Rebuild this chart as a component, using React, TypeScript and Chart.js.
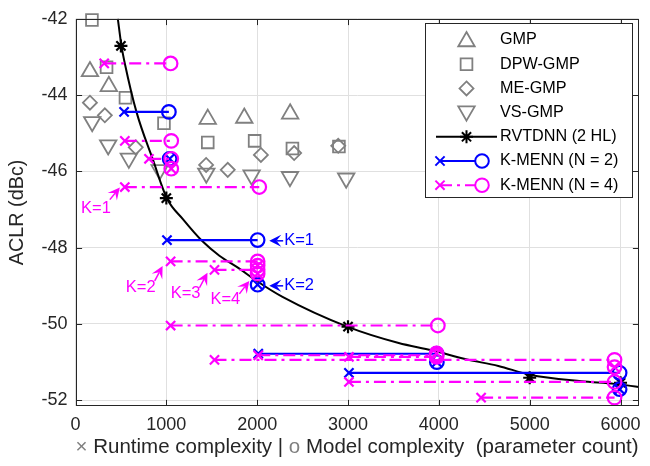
import React, { useEffect, useRef } from "react";
import { Chart, registerables } from "chart.js";
Chart.register(...registerables);

// ---------- data ----------
const xTicks = [0, 1000, 2000, 3000, 4000, 5000, 6000];
const yTicks = [-52, -50, -48, -46, -44, -42];
const xMin = 0, xMax = 6200, yMin = -52.15, yMax = -42;

const gmpX = [159, 367, 1456, 1858, 2363];
const gmpY = [-43.38, -43.77, -44.63, -44.6, -44.49];
const dpwX = [181, 342, 550, 974, 1456, 1972, 2388, 2900];
const dpwY = [-42.03, -43.27, -44.07, -44.74, -45.24, -45.2, -45.4, -45.35];
const meX = [159, 323, 663, 1438, 1676, 2041, 2407, 2892];
const meY = [-44.2, -44.53, -45.37, -45.83, -45.96, -45.57, -45.52, -45.33];
const vsX = [184, 360, 587, 927, 1440, 1939, 2361, 2980];
const vsY = [-44.7, -45.31, -45.66, -45.96, -46.05, -46.1, -46.14, -46.18];

const rvtdnnX = [500, 1000, 3000, 5000, 6000];
const rvtdnnY = [-42.71, -46.7, -50.07, -51.41, -51.54];
const fitX = [466, 506, 543, 671, 853, 1007, 1182, 1401, 1584, 1804, 1987, 2279, 2991, 3558, 3923, 4289, 4655, 5002, 5568, 5934, 6200];
const fitY = [-42.0, -42.71, -43.17, -44.44, -45.7, -46.71, -47.25, -47.84, -48.21, -48.55, -48.86, -49.29, -50.07, -50.5, -50.69, -50.92, -51.1, -51.33, -51.5, -51.57, -51.65];

const n2RuntimeX = [535, 1036, 1007, 2005, 2012, 3978, 3010, 5990];
const n2ModelX = [1028, 1036, 2005, 2005, 3975, 3978, 5990, 5990];
const n2Aclr = [-44.44, -45.67, -47.8, -48.97, -50.78, -51.0, -51.28, -51.71];

const n4RuntimeX = [316, 543, 809, 1054, 543, 1047, 1530, 2005, 2005, 1047, 1530, 2012, 3010, 3975, 3010, 4465, 5934];
const n4ModelX = [1047, 1054, 1054, 1054, 2023, 2005, 2005, 2005, 2005, 3989, 5934, 3975, 3975, 3975, 5934, 5934, 5934];
const n4Aclr = [-43.17, -45.2, -45.67, -45.93, -46.41, -48.36, -48.58, -48.47, -48.68, -50.04, -50.94, -50.82, -50.86, -50.77, -51.52, -51.93, -51.13];

const seriesNames = ["GMP", "DPW-GMP", "ME-GMP", "VS-GMP", "RVTDNN (2 HL)", "K-MENN (N = 2)", "K-MENN (N = 4)"];

// annotations in data coordinates
const notes = [
  { text: "K=1", color: "#ff00ff", tip: [488, -46.42], tail: [378, -46.74], at: [225, -46.98], align: "center" },
  { text: "K=2", color: "#ff00ff", tip: [959, -48.48], tail: [872, -48.87], at: [718, -49.05], align: "center" },
  { text: "K=3", color: "#ff00ff", tip: [1453, -48.66], tail: [1365, -49.05], at: [1212, -49.21], align: "center" },
  { text: "K=4", color: "#ff00ff", tip: [1913, -48.87], tail: [1804, -49.21], at: [1650, -49.37], align: "center" },
  { text: "K=1", color: "#0000ff", tip: [2133, -47.82], tail: [2286, -47.82], at: [2297, -47.82], align: "left" },
  { text: "K=2", color: "#0000ff", tip: [2133, -49.0], tail: [2286, -49.0], at: [2297, -49.0], align: "left" },
];

// ---------- style ----------
const FONT = "'Liberation Sans', Arial, Helvetica, sans-serif";
const GRAY = "#808080";
const AX = "#262626";
const BLUE = "#0000ff";
const MAG = "#ff00ff";
const DASHDOT = [12, 5, 3, 5];

function drawMarker(ctx: CanvasRenderingContext2D, style: string, x: number, y: number, r: number) {
  ctx.beginPath();
  if (style === "triangle" || style === "triangleDown") {
    const s = style === "triangle" ? 1 : -1;
    for (let i = 0; i < 3; i++) {
      const a = (i * 2 * Math.PI) / 3;
      const px = x + Math.sin(a) * r;
      const py = y - s * Math.cos(a) * r;
      if (i === 0) ctx.moveTo(px, py); else ctx.lineTo(px, py);
    }
    ctx.closePath();
    ctx.stroke();
  } else if (style === "rect") {
    const h = r * Math.SQRT1_2;
    ctx.rect(x - h, y - h, 2 * h, 2 * h);
    ctx.stroke();
  } else if (style === "rectRot") {
    ctx.moveTo(x, y - r); ctx.lineTo(x + r, y); ctx.lineTo(x, y + r); ctx.lineTo(x - r, y); ctx.closePath();
    ctx.stroke();
  } else if (style === "circle") {
    ctx.arc(x, y, r, 0, Math.PI * 2);
    ctx.stroke();
  } else if (style === "crossRot" || style === "star") {
    const h = r * Math.SQRT1_2;
    ctx.moveTo(x - h, y - h); ctx.lineTo(x + h, y + h);
    ctx.moveTo(x - h, y + h); ctx.lineTo(x + h, y - h);
    if (style === "star") {
      ctx.moveTo(x - r, y); ctx.lineTo(x + r, y);
      ctx.moveTo(x, y - r); ctx.lineTo(x, y + r);
    }
    ctx.stroke();
  }
}

function drawArrow(ctx: CanvasRenderingContext2D, x1: number, y1: number, x2: number, y2: number, color: string) {
  const ang = Math.atan2(y2 - y1, x2 - x1);
  const L = 12, W = 6;
  const cos = Math.cos(ang), sin = Math.sin(ang);
  ctx.strokeStyle = color; ctx.fillStyle = color; ctx.lineWidth = 1.5; ctx.setLineDash([]);
  ctx.beginPath();
  ctx.moveTo(x1, y1);
  ctx.lineTo(x2 - cos * L * 0.6, y2 - sin * L * 0.6);
  ctx.stroke();
  const bx = x2 - cos * L, by = y2 - sin * L;
  const nx = x2 - cos * L * 0.6, ny = y2 - sin * L * 0.6;
  ctx.beginPath();
  ctx.moveTo(x2, y2);
  ctx.lineTo(bx - sin * W, by + cos * W);
  ctx.lineTo(nx, ny);
  ctx.lineTo(bx + sin * W, by - cos * W);
  ctx.closePath();
  ctx.fill();
}

const decor = {
  id: "decor",
  afterDraw(chart: any) {
    const { ctx, chartArea: a, scales } = chart;
    const xs = scales.x, ys = scales.y;
    ctx.save();
    // box + inward ticks
    ctx.strokeStyle = AX; ctx.lineWidth = 1; ctx.setLineDash([]);
    const L = Math.round(a.left) + 0.5, R = Math.round(a.right) - 0.5;
    const T = Math.round(a.top) + 0.5, B = Math.round(a.bottom) - 0.5;
    ctx.strokeRect(L, T, R - L, B - T);
    const tl = 5.6;
    ctx.beginPath();
    xTicks.forEach((v) => {
      const px = Math.round(xs.getPixelForValue(v)) + 0.5;
      ctx.moveTo(px, B); ctx.lineTo(px, B - tl);
      ctx.moveTo(px, T); ctx.lineTo(px, T + tl);
    });
    yTicks.forEach((v) => {
      const py = Math.round(ys.getPixelForValue(v)) + 0.5;
      ctx.moveTo(L, py); ctx.lineTo(L + tl, py);
      ctx.moveTo(R, py); ctx.lineTo(R - tl, py);
    });
    ctx.stroke();

    // annotations
    notes.forEach((n) => {
      const tx = xs.getPixelForValue(n.tip[0]), ty = ys.getPixelForValue(n.tip[1]);
      const sx = xs.getPixelForValue(n.tail[0]), sy = ys.getPixelForValue(n.tail[1]);
      drawArrow(ctx, sx, sy, tx, ty, n.color);
      ctx.fillStyle = n.color;
      ctx.font = `16.5px ${FONT}`;
      ctx.textAlign = n.align as CanvasTextAlign;
      ctx.textBaseline = "middle";
      ctx.fillText(n.text, xs.getPixelForValue(n.at[0]), ys.getPixelForValue(n.at[1]));
    });

    // legend
    const lb = { left: 425.5, top: 23.5, right: 632.5, bottom: 197.5 };
    ctx.fillStyle = "#ffffff";
    ctx.fillRect(lb.left, lb.top, lb.right - lb.left, lb.bottom - lb.top);
    ctx.strokeStyle = AX; ctx.lineWidth = 1;
    ctx.strokeRect(lb.left, lb.top, lb.right - lb.left, lb.bottom - lb.top);
    const y0 = 40, step = 24.2, sx = 466.5, tx = 500;
    ctx.font = `16.2px ${FONT}`;
    ctx.textAlign = "left"; ctx.textBaseline = "middle";
    seriesNames.forEach((name, i) => {
      const yy = y0 + i * step;
      if (i < 4) {
        ctx.strokeStyle = GRAY; ctx.lineWidth = 1.8; ctx.setLineDash([]);
        const st = ["triangle", "rect", "rectRot", "triangleDown"][i];
        const r = [9.5, 8.3, 7, 9.5][i];
        drawMarker(ctx, st, sx, yy + (i === 0 ? 1.5 : i === 3 ? -1.5 : 0), r);
      } else if (i === 4) {
        ctx.strokeStyle = "#000"; ctx.lineWidth = 2; ctx.setLineDash([]);
        ctx.beginPath(); ctx.moveTo(436, yy); ctx.lineTo(497, yy); ctx.stroke();
        ctx.lineWidth = 2;
        drawMarker(ctx, "star", sx, yy, 6.5);
      } else {
        const c = i === 5 ? BLUE : MAG;
        ctx.strokeStyle = c; ctx.lineWidth = 2;
        ctx.setLineDash(i === 5 ? [] : DASHDOT);
        ctx.beginPath(); ctx.moveTo(440, yy); ctx.lineTo(476, yy); ctx.stroke();
        ctx.setLineDash([]);
        drawMarker(ctx, "crossRot", 440, yy, 6.5);
        drawMarker(ctx, "circle", 482, yy, 6.8);
      }
      ctx.fillStyle = "#000";
      ctx.fillText(name, tx, yy);
    });

    // axis titles
    ctx.font = `20.5px ${FONT}`;
    ctx.textBaseline = "middle";
    const parts: [string, string][] = [
      ["\u00d7", GRAY], [" Runtime complexity | ", AX], ["o", GRAY], [" Model complexity  (parameter count)", AX],
    ];
    const total = parts.reduce((s, p) => s + ctx.measureText(p[0]).width, 0);
    let cx = (a.left + a.right) / 2 - total / 2;
    ctx.textAlign = "left";
    parts.forEach(([t, c]) => {
      ctx.fillStyle = c;
      ctx.fillText(t, cx, 447);
      cx += ctx.measureText(t).width;
    });
    ctx.font = `19.8px ${FONT}`;
    ctx.save();
    ctx.translate(18, (a.top + a.bottom) / 2);
    ctx.rotate(-Math.PI / 2);
    ctx.textAlign = "center";
    ctx.fillStyle = AX;
    ctx.fillText("ACLR (dBc)", 0, 0);
    ctx.restore();

    ctx.restore();
  },
};

export default function App() {
  const ref = useRef<HTMLCanvasElement>(null);
  useEffect(() => {
    const canvas = ref.current!;
    const pts = (xs: number[], ys: number[]) => xs.map((x, i) => ({ x, y: ys[i] }));
    const datasets: any[] = [];
    const gray = (label: string, xs: number[], ys: number[], style: string, r: number, rot = 0) => ({
      type: "scatter", label, data: pts(xs, ys), pointStyle: style, pointRadius: r, pointRotation: rot,
      pointBorderColor: GRAY, pointBackgroundColor: "rgba(0,0,0,0)", pointBorderWidth: 1.8,
      showLine: false, order: 4, clip: false,
    });
    datasets.push(gray(seriesNames[0], gmpX, gmpY, "triangle", 9.5));
    datasets.push(gray(seriesNames[1], dpwX, dpwY, "rect", 8.3));
    datasets.push(gray(seriesNames[2], meX, meY, "rectRot", 7));
    datasets.push(gray(seriesNames[3], vsX, vsY, "triangle", 9.5, 180));
    datasets.push({
      type: "line", label: "fit", data: pts(fitX, fitY), borderColor: "#000", borderWidth: 2,
      pointRadius: 0, cubicInterpolationMode: "monotone", order: 3, clip: false,
    });
    datasets.push({
      type: "scatter", label: seriesNames[4], data: pts(rvtdnnX, rvtdnnY), pointStyle: "star",
      pointRadius: 6.5, pointBorderWidth: 2.2, pointBorderColor: "#000", showLine: false, order: 2, clip: false,
    });
    const seg = (rt: number, mo: number, y: number, color: string, dash: number[], order: number) => ({
      type: "line", data: [{ x: rt, y }, { x: mo, y }], borderColor: color, borderWidth: 2.2, borderDash: dash,
      pointStyle: ["crossRot", "circle"], pointRadius: [6.5, 6.8], pointBorderWidth: 2.2,
      pointBorderColor: color, pointBackgroundColor: "rgba(0,0,0,0)", order, clip: false,
    });
    n2Aclr.forEach((y, i) => datasets.push(seg(n2RuntimeX[i], n2ModelX[i], y, BLUE, [], 1)));
    n4Aclr.forEach((y, i) => datasets.push(seg(n4RuntimeX[i], n4ModelX[i], y, MAG, DASHDOT, 0)));

    const tickFont = { family: FONT, size: 18 };
    const chart = new Chart(canvas, {
      type: "scatter",
      data: { datasets },
      options: {
        animation: false,
        responsive: false,
        devicePixelRatio: 1,
        events: [],
        layout: { padding: { left: 0, right: 9, top: 16, bottom: 0 } },
        plugins: { legend: { display: false }, tooltip: { enabled: false } },
        scales: {
          x: {
            type: "linear", min: xMin, max: xMax,
            afterBuildTicks: (s: any) => { s.ticks = xTicks.map((v) => ({ value: v })); },
            afterFit: (s: any) => { s.height = 60; },
            ticks: { font: tickFont, color: AX, padding: 8, maxRotation: 0, callback: (v: any) => String(v) },
            grid: { color: "#e0e0e0", lineWidth: 1, drawTicks: false },
            border: { display: false },
          },
          y: {
            type: "linear", min: yMin, max: yMax,
            afterBuildTicks: (s: any) => { s.ticks = yTicks.map((v) => ({ value: v })); },
            afterFit: (s: any) => { s.width = 75.5; },
            ticks: { font: tickFont, color: AX, padding: 8, callback: (v: any) => String(v) },
            grid: { color: "#e0e0e0", lineWidth: 1, drawTicks: false },
            border: { display: false },
          },
        },
      } as any,
      plugins: [decor],
    });
    return () => chart.destroy();
  }, []);
  return (
    <div style={{ position: "absolute", left: 0, top: 0, width: 650, height: 466, background: "#fff" }}>
      <canvas ref={ref} width={650} height={466} style={{ display: "block" }} />
    </div>
  );
}
